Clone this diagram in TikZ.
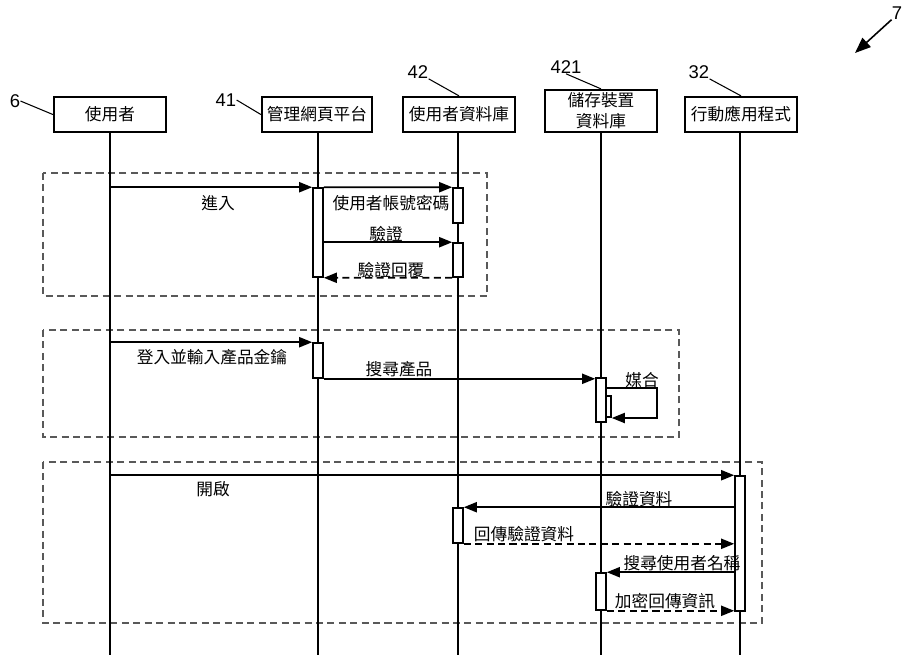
\documentclass[tikz,border=0pt]{standalone}
\usepackage{fontspec}
\newfontfamily\cjk{Noto Sans CJK TC}
\newfontfamily\numfont{Liberation Sans}
\usetikzlibrary{arrows.meta, positioning}

\tikzset{
  head/.style={draw, line width=1.3pt, minimum width=2.24cm, minimum height=0.7cm,
    inner sep=1pt, font=\cjk\fontsize{9.5}{12}\selectfont},
  act/.style={draw, line width=0.9pt, fill=white, minimum width=0.2cm, inner sep=0pt},
  life/.style={line width=1pt},
  msg/.style={line width=1pt, -{Triangle[length=7.5pt, width=5.8pt]}},
  reply/.style={msg, dash pattern=on 4pt off 2.5pt},
  grp/.style={draw=black!65, line width=0.7pt, dash pattern=on 4pt off 2.5pt},
  lbl/.style={font=\cjk\fontsize{9.5}{11}\selectfont, inner sep=0pt},
  num/.style={font=\numfont\fontsize{10.5}{12}\selectfont, inner sep=0pt},
  lead/.style={line width=0.6pt}
}

\begin{document}
\begin{tikzpicture}[x=0.02cm, y=-0.02cm]
  \useasboundingbox (0,0) rectangle (904,657);

  % groups
  \draw[grp] (43,173) rectangle (487,296);
  \draw[grp] (43,330) rectangle (679,437);
  \draw[grp] (43,462) rectangle (762,623);

  % heads and lifelines
  \node[head] (h1) at (110,114.5) {使用者};
  \node[head, minimum width=2.2cm] (h2) at (317,114.5) {管理網頁平台};
  \node[head] (h3) at (459,114.5) {使用者資料庫};
  \node[head, minimum height=0.84cm, align=center] (h4) at (601,111) {儲存裝置\\資料庫};
  \node[head] (h5) at (741,114.5) {行動應用程式};
  \foreach \h/\x in {h1/110, h2/318, h3/458, h4/601, h5/740}
    \draw[life] (\h.south -| \x,0) -- (\x,655);

  % reference numbers
  \node[num] (n6) at (15,101) {6};
  \node[num] (n41) at (226,100) {41};
  \node[num] (n42) at (418,72) {42};
  \node[num] (n421) at (566,67) {421};
  \node[num] (n32) at (699,72) {32};
  \node[num] (n7) at (897,13) {7};
  \coordinate (p7) at (855,53);
  \draw[lead] (n6.east) -- (h1.west);
  \draw[lead] (n41.east) -- (h2.west);
  \draw[lead] (n42.south east) -- (h3.north);
  \draw[lead] (n421.south) -- (h4.north);
  \draw[lead] (n32.south east) -- (h5.north);
  \draw[line width=0.9pt, -{Triangle[length=9pt, width=7pt]}] (n7.south west) -- (p7);

  % activations
  \node[act, minimum height=1.78cm] (a1) at (318,232.5) {};
  \node[act, minimum height=0.70cm] (a2) at (458,205.5) {};
  \node[act, minimum height=0.68cm] (a3) at (458,260) {};
  \node[act, minimum height=0.70cm] (b1) at (318,360.5) {};
  \node[act, minimum height=0.88cm] (b2) at (601,400) {};
  \node[act, minimum width=0.1cm, minimum height=0.42cm] (b3) at (608.5,406.5) {};
  \node[act, minimum height=2.70cm] (c1) at (740,543.5) {};
  \node[act, minimum height=0.70cm] (c2) at (458,525.5) {};
  \node[act, minimum height=0.74cm] (c3) at (601,591.5) {};

  % login group
  \draw[msg] (h1 |- a1.north) -- (a1.north west);
  \draw[msg] (a1.north east) -- (a2.north west);
  \draw[msg] (a1.east |- a3.north) -- (a3.north west);
  \draw[reply] (a3.south west) -- (a1.south east);
  \node[lbl] (t1) at (218,203) {進入};
  \node[lbl] (t2) at (391,203) {使用者帳號密碼};
  \node[lbl] (t3) at (386,234) {驗證};
  \node[lbl] (t4) at (391,270) {驗證回覆};

  % product group
  \draw[msg] (h1 |- b1.north) -- (b1.north west);
  \draw[msg] (b1.south east) -- (b2.west |- b1.south);
  \coordinate (m1) at (657,388);
  \coordinate (m2) at (657,418);
  \draw[msg] (b2.east |- m1) -- (m1) -- (m2) -- (b3.east |- m2);
  \node[lbl] (t5) at (212,357) {登入並輸入產品金鑰};
  \node[lbl] (t6) at (399,369) {搜尋產品};
  \node[lbl] (t7) at (642,380) {媒合};

  % app group
  \draw[msg] (h1 |- c1.north) -- (c1.north west);
  \draw[msg] (c1.west |- c2.north) -- (c2.north east);
  \draw[reply] (c2.south east) -- (c1.west |- c2.south);
  \draw[msg] (c1.west |- c3.north) -- (c3.north east);
  \draw[reply] (c3.south east) -- (c1.west |- c3.south);
  \node[lbl] (t8) at (213,489) {開啟};
  \node[lbl] (t9) at (639,499) {驗證資料};
  \node[lbl] (t10) at (524,534) {回傳驗證資料};
  \node[lbl] (t11) at (682,563) {搜尋使用者名稱};
  \node[lbl] (t12) at (665,601) {加密回傳資訊};
\end{tikzpicture}
\end{document}
